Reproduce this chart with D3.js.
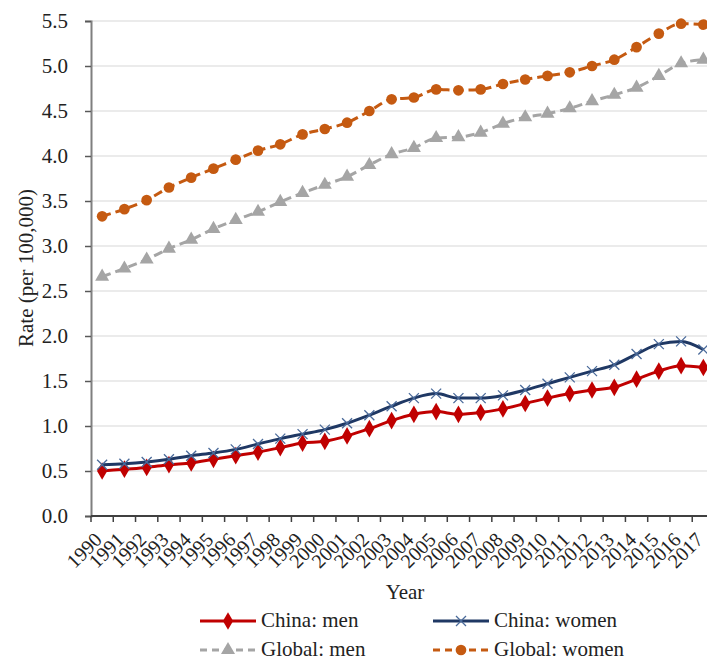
<!DOCTYPE html>
<html>
<head>
<meta charset="utf-8">
<script src="https://cdn.jsdelivr.net/npm/d3@7"></script>
<style>
  body { margin: 0; background: #fff; }
  svg { display: block; font-family: "Liberation Serif", "Times New Roman", serif; }
</style>
</head>
<body>
<svg id="chart" width="707" height="661"></svg>
<script>
// data
var years = d3.range(1990, 2018).map(String);
var chinaMen = [0.50, 0.52, 0.54, 0.57, 0.59, 0.63, 0.67, 0.71, 0.76, 0.81, 0.83, 0.89, 0.97, 1.06, 1.13, 1.16,
                1.13, 1.15, 1.19, 1.25, 1.31, 1.36, 1.40, 1.43, 1.52, 1.61, 1.67, 1.65];
var chinaWomen = [0.57, 0.58, 0.60, 0.63, 0.67, 0.70, 0.74, 0.80, 0.86, 0.91, 0.96, 1.03, 1.12, 1.22, 1.31, 1.36,
                  1.31, 1.31, 1.34, 1.40, 1.47, 1.54, 1.61, 1.68, 1.80, 1.91, 1.94, 1.85];
var globalMen = [2.66, 2.75, 2.85, 2.97, 3.07, 3.19, 3.29, 3.38, 3.49, 3.59, 3.68, 3.77, 3.90, 4.02, 4.09, 4.20,
                 4.21, 4.26, 4.36, 4.43, 4.47, 4.53, 4.61, 4.68, 4.76, 4.89, 5.03, 5.07];
var globalWomen = [3.33, 3.41, 3.51, 3.65, 3.76, 3.86, 3.96, 4.06, 4.13, 4.24, 4.30, 4.37, 4.50, 4.63, 4.65, 4.74,
                   4.73, 4.74, 4.80, 4.85, 4.89, 4.93, 5.00, 5.07, 5.21, 5.36, 5.47, 5.46];
var yTicks = [0, 0.5, 1, 1.5, 2, 2.5, 3, 3.5, 4, 4.5, 5, 5.5];

var series = [
  { name: "China: men", values: chinaMen, color: "#c00000", dash: null, sym: d3.symbolDiamond, size: 90 },
  { name: "China: women", values: chinaWomen, color: "#1f3864", dash: null, sym: "x", size: 40 },
  { name: "Global: men", values: globalMen, color: "#a5a5a5", dash: "9,5", sym: d3.symbolTriangle, size: 85 },
  { name: "Global: women", values: globalWomen, color: "#c55a11", dash: "9,5", sym: d3.symbolCircle, size: 90 }
];

var svg = d3.select("#chart");
var pL = 91, pT = 21, pB = 516, pR = 714.5;

var x = d3.scaleBand().domain(years).range([pL, pR]);
var y = d3.scaleLinear().domain([0, 5.5]).range([pB, pT]);

// gridlines
svg.append("g").selectAll("line").data(yTicks.slice(1)).join("line")
  .attr("x1", pL).attr("x2", pR)
  .attr("y1", function (d) { return y(d); }).attr("y2", function (d) { return y(d); })
  .attr("stroke", "#e4e4e4").attr("stroke-width", 1.5);

// y axis
var yAxis = svg.append("g").attr("transform", "translate(" + pL + ",0)")
  .call(d3.axisLeft(y).tickValues(yTicks).tickFormat(d3.format(".1f")).tickSize(6).tickPadding(17));
yAxis.select(".domain").attr("stroke", "#7f7f7f").attr("stroke-width", 2);
yAxis.selectAll(".tick line").attr("stroke", "#595959").attr("stroke-width", 1.5);
yAxis.selectAll("text").attr("font-family", "Liberation Serif").attr("font-size", 21).attr("fill", "#222");

// x axis, ticks between categories
var xAxis = svg.append("g").attr("transform", "translate(0," + pB + ")");
xAxis.append("line").attr("x1", pL).attr("x2", pR).attr("stroke", "#404040").attr("stroke-width", 2);
xAxis.selectAll("line.tk").data(years.concat(["end"])).join("line").attr("class", "tk")
  .attr("x1", function (d) { return d === "end" ? pR : x(d); })
  .attr("x2", function (d) { return d === "end" ? pR : x(d); })
  .attr("y1", 0).attr("y2", 6).attr("stroke", "#404040").attr("stroke-width", 1.5);
xAxis.selectAll("text").data(years).join("text")
  .attr("transform", function (d) {
    return "translate(" + (x(d) + x.bandwidth() / 2 + 1) + ",25) rotate(-45)";
  })
  .attr("text-anchor", "end")
  .attr("font-size", 20).attr("fill", "#222")
  .text(function (d) { return d; });

// axis titles
svg.append("text").attr("x", 405).attr("y", 599).attr("text-anchor", "middle")
  .attr("font-size", 21).attr("fill", "#222").text("Year");
svg.append("text").attr("transform", "translate(33," + 268 + ") rotate(-90)")
  .attr("text-anchor", "middle").attr("font-size", 21).attr("fill", "#222").text("Rate (per 100,000)");

function drawMarker(g, s, cx, cy) {
  if (s.sym === "x") {
    var r = 5;
    g.append("path")
      .attr("d", "M" + (cx - r) + "," + (cy - r) + "L" + (cx + r) + "," + (cy + r) +
                 "M" + (cx - r) + "," + (cy + r) + "L" + (cx + r) + "," + (cy - r))
      .attr("stroke", "#4a6a9a").attr("stroke-width", 1.3).attr("fill", "none");
  } else {
    g.append("path").attr("d", d3.symbol().type(s.sym).size(s.size)())
      .attr("transform", "translate(" + cx + "," + cy + ")")
      .attr("fill", s.color);
  }
}

var line = d3.line()
  .x(function (d, i) { return x(years[i]) + x.bandwidth() / 2; })
  .y(function (d) { return y(d); })
  .curve(d3.curveMonotoneX);

var plot = svg.append("g");
series.forEach(function (s) {
  var g = plot.append("g");
  g.append("path").datum(s.values).attr("d", line)
    .attr("fill", "none").attr("stroke", s.color).attr("stroke-width", 3)
    .attr("stroke-dasharray", s.dash);
  s.values.forEach(function (v, i) {
    drawMarker(g, s, x(years[i]) + x.bandwidth() / 2, y(v));
  });
});

// legend
var legPos = [[200, 621], [433, 621], [200, 650], [433, 650]];
series.forEach(function (s, i) {
  var g = svg.append("g").attr("transform", "translate(" + legPos[i][0] + "," + legPos[i][1] + ")");
  g.append("line").attr("x1", 0).attr("x2", 56).attr("y1", 0).attr("y2", 0)
    .attr("stroke", s.color).attr("stroke-width", 3).attr("stroke-dasharray", s.dash ? "7,5" : null);
  drawMarker(g, s, 28, 0);
  g.append("text").attr("x", 61).attr("y", 6).attr("font-size", 21).attr("fill", "#222").text(s.name);
});
</script>
</body>
</html>
